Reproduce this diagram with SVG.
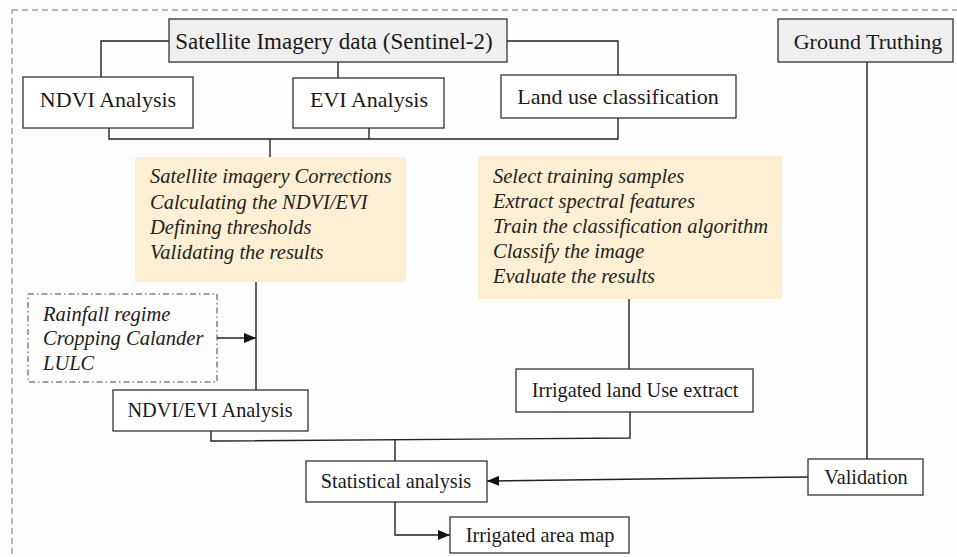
<svg xmlns="http://www.w3.org/2000/svg" width="957" height="557" viewBox="0 0 957 557">
<defs>
<marker id="ah" markerWidth="12" markerHeight="10" refX="12" refY="5" orient="auto" markerUnits="userSpaceOnUse">
<path d="M0,0 L12,5 L0,10 Z" fill="#111"/>
</marker>
<style>
.box{fill:#ffffff;stroke:#333;stroke-width:1.3}
.gbox{fill:#efefef;stroke:#333;stroke-width:1.3}
.note{fill:#fdf0d2;stroke:none}
.t{font-family:"Liberation Serif","Times New Roman",serif;font-size:20.3px;fill:#1a1a1a;text-anchor:middle}
.tl{font-size:22px}
.it{font-family:"Liberation Serif","Times New Roman",serif;font-size:20.5px;font-style:italic;fill:#222}
.ln{fill:none;stroke:#222;stroke-width:1.4}
</style>
</defs>
<rect x="0" y="0" width="957" height="557" fill="#fdfdfd"/>
<rect x="12" y="10" width="952" height="560" fill="none" stroke="#777" stroke-width="1" stroke-dasharray="6,4"/>

<g id="connectors">
<polyline class="ln" points="169,41 101,41 101,77"/>
<line class="ln" x1="338" y1="62" x2="338" y2="78"/>
<polyline class="ln" points="507,41 618,41 618,75"/>
<polyline class="ln" points="109,128 109,139 618,139 618,118"/>
<line class="ln" x1="369" y1="128" x2="369" y2="139"/>
<line class="ln" x1="270" y1="139" x2="270" y2="157"/>
<line class="ln" x1="256" y1="282" x2="256" y2="390"/>
<line class="ln" x1="217" y1="338" x2="256" y2="338" marker-end="url(#ah)"/>
<line class="ln" x1="629" y1="299" x2="629" y2="369"/>
<polyline class="ln" points="211,431 211,441 630,438 630,412"/>
<line class="ln" x1="395" y1="440" x2="395" y2="461"/>
<polyline class="ln" points="395,502 395,535 450,535" marker-end="url(#ah)"/>
<line class="ln" x1="867" y1="62" x2="867" y2="459"/>
<line class="ln" x1="808" y1="477" x2="487" y2="481" marker-end="url(#ah)"/>
</g>

<g id="satellite">
<rect class="gbox" x="169" y="19" width="338" height="43"/>
<text class="t" x="334" y="49" style="font-size:23px">Satellite Imagery data (Sentinel-2)</text>
</g>
<g id="ground-truthing">
<rect class="gbox" x="778" y="19" width="175" height="43"/>
<text class="t tl" x="868" y="49">Ground Truthing</text>
</g>
<g id="ndvi">
<rect class="box" x="23" y="77" width="170" height="51"/>
<text class="t tl" x="108" y="107">NDVI Analysis</text>
</g>
<g id="evi">
<rect class="box" x="293" y="78" width="151" height="50"/>
<text class="t tl" x="369" y="107">EVI Analysis</text>
</g>
<g id="landuse">
<rect class="box" x="501" y="75" width="235" height="43"/>
<text class="t tl" x="618" y="104">Land use classification</text>
</g>
<g id="steps-ndvi">
<rect class="note" x="135" y="157" width="271" height="125"/>
<text class="it" x="150" y="183">Satellite imagery Corrections</text>
<text class="it" x="150" y="209">Calculating the NDVI/EVI</text>
<text class="it" x="150" y="234">Defining thresholds</text>
<text class="it" x="150" y="259">Validating the results</text>
</g>
<g id="steps-class">
<rect class="note" x="478" y="156" width="304" height="143"/>
<text class="it" x="493" y="183">Select training samples</text>
<text class="it" x="493" y="208">Extract spectral features</text>
<text class="it" x="493" y="233">Train the classification algorithm</text>
<text class="it" x="493" y="258">Classify the image</text>
<text class="it" x="493" y="283">Evaluate the results</text>
</g>
<g id="inputs">
<rect x="28" y="294" width="189" height="88" fill="none" stroke="#444" stroke-width="1" stroke-dasharray="6,3,1.5,3"/>
<text class="it" x="43" y="321">Rainfall regime</text>
<text class="it" x="43" y="345">Cropping Calander</text>
<text class="it" x="43" y="370">LULC</text>
</g>
<g id="ndvi-evi">
<rect class="box" x="113" y="390" width="195" height="41"/>
<text class="t" x="210" y="417">NDVI/EVI Analysis</text>
</g>
<g id="irrigated-extract">
<rect class="box" x="516" y="369" width="237" height="43"/>
<text class="t" x="635" y="397">Irrigated land Use extract</text>
</g>
<g id="statistical">
<rect class="box" x="306" y="461" width="181" height="41"/>
<text class="t" x="396" y="488">Statistical analysis</text>
</g>
<g id="validation">
<rect class="box" x="808" y="459" width="115" height="36"/>
<text class="t" x="866" y="484">Validation</text>
</g>
<g id="irrigated-map">
<rect class="box" x="450" y="517" width="179" height="36"/>
<text class="t" x="540" y="542">Irrigated area map</text>
</g>
</svg>
